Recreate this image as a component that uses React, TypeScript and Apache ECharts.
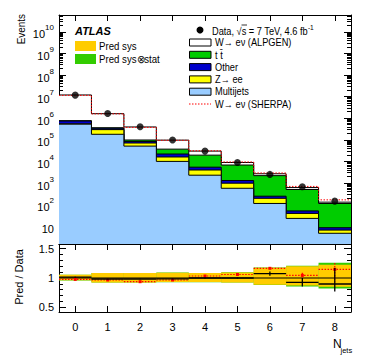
import React, { useEffect, useRef } from 'react';
import * as echarts from 'echarts';

const bins = [0, 1, 2, 3, 4, 5, 6, 7, 8];
const xTickLabels = ['0', '1', '2', '3', '4', '5', '6', '7', '8'];
const yMajorTicks = [10, 1e2, 1e3, 1e4, 1e5, 1e6, 1e7, 1e8, 1e9, 1e10];
const ratioTicks = [0.5, 1, 1.5];

// stacked predictions (per component)
const multijets = [5.3e5, 1.8e5, 5.1e4, 1.0e4, 2.3e3, 570, 113, 23, 4.7];
const zee = [2.0e4, 1.16e5, 2.0e4, 6.0e3, 1.7e3, 410, 82, 16, 1.9];
const other = [1.9e5, 4.9e4, 1.3e4, 6.0e3, 1.4e3, 320, 50, 12, 1.9];
const ttbar = [3.0e4, 1.5e4, 1.4e4, 1.5e4, 1.41e4, 5.5e3, 1.95e3, 450, 104];
const wAlpgen = [1.113e7, 1.26e6, 2.95e5, 5.95e4, 1.05e4, 2100, 485, 114, 17.5];
const sherpaTotal = [1.14e7, 1.59e6, 3.75e5, 9.47e4, 3.1e4, 9.43e3, 2.91e3, 695, 166];
const dataEvents = [1.17e7, 1.65e6, 4.0e5, 9.8e4, 3.0e4, 8.9e3, 2.5e3, 665, 145];

// ratio panel
const ratioAlpgen = [1.015, 0.983, 0.983, 0.985, 1.0, 1.0, 1.073, 0.925, 0.898];
const ratioAlpgenLow = [1.008, 0.977, 0.977, 0.979, 0.993, 0.99, 1.04, 0.857, 0.77];
const ratioAlpgenHigh = [1.022, 0.989, 0.989, 0.991, 1.007, 1.01, 1.113, 1.0, 1.17];
const ratioSherpa = [0.976, 0.966, 0.937, 0.966, 1.034, 1.06, 1.165, 1.045, 1.147];
const ratioSherpaLow = [0.972, 0.962, 0.932, 0.96, 1.027, 1.05, 1.145, 1.0, 0.94];
const ratioSherpaHigh = [0.98, 0.97, 0.942, 0.972, 1.041, 1.07, 1.185, 1.09, 1.255];
const sysLow = [0.96, 0.925, 0.925, 0.93, 0.93, 0.925, 0.886, 0.87, 0.85];
const sysHigh = [1.055, 1.085, 1.085, 1.09, 1.085, 1.095, 1.175, 1.2, 1.227];
const totLow = [0.958, 0.923, 0.923, 0.928, 0.928, 0.922, 0.88, 0.855, 0.82];
const totHigh = [1.057, 1.087, 1.087, 1.092, 1.087, 1.098, 1.18, 1.21, 1.26];

const FONT = "'Liberation Sans', Arial, Helvetica, sans-serif";
const C_MJ = '#99ccff';
const C_Z = '#ffff00';
const C_OTHER = '#0000cc';
const C_TT = '#00cc00';
const C_SYS = '#ffcc00';
const C_TOT = '#33cc00';

function stepPoints(vals: number[]) {
  const pts: number[][] = [];
  vals.forEach((v, i) => {
    pts.push([bins[i] - 0.5, v]);
    pts.push([bins[i] + 0.5, v]);
  });
  return pts;
}

function addArr(a: number[], b: number[]) {
  return a.map((v, i) => v + b[i]);
}

export default function App() {
  const ref = useRef<HTMLDivElement>(null);
  useEffect(() => {
    if (!ref.current) return;
    const chart = echarts.init(ref.current, undefined, { renderer: 'svg' });

    const cumMJ = multijets;
    const cumZ = addArr(cumMJ, zee);
    const cumOther = addArr(cumZ, other);
    const cumTT = addArr(cumOther, ttbar);
    const cumW = addArr(cumTT, wAlpgen);

    const minorLog: number[] = [];
    for (let e = 0; e <= 10; e++) {
      for (let m = 2; m <= 9; m++) {
        const v = m * Math.pow(10, e);
        if (v > 1.5 && v < 6e10) minorLog.push(v);
      }
    }
    const minorRatio: number[] = [];
    for (let k = 5; k <= 15; k++) minorRatio.push(k / 10);

    const X0 = 59, X1 = 351, T0 = 15, B0 = 244, B1 = 312;

    const histSeries = (vals: number[], color: string, z: number) => ({
      type: 'line',
      xAxisIndex: 0,
      yAxisIndex: 0,
      data: stepPoints(vals),
      showSymbol: false,
      symbol: 'none',
      lineStyle: { color: '#000', width: 1 },
      areaStyle: { color, opacity: 1, origin: 'start' },
      z,
      silent: true,
    });

    const xAxisBase = (gridIndex: number, position: string, labels: boolean) => ({
      type: 'value',
      gridIndex,
      position,
      min: -0.5,
      max: 8.5,
      axisLine: { show: true, onZero: false, lineStyle: { color: '#000', width: 1 } },
      axisTick: { show: true, inside: true, length: 6, customValues: bins, lineStyle: { color: '#000' } },
      axisLabel: labels
        ? {
            show: true,
            customValues: bins,
            formatter: (v: number) => xTickLabels[Math.round(v)] ?? '',
            fontFamily: FONT,
            fontSize: 11,
            color: '#000',
            margin: 9,
          }
        : { show: false },
      splitLine: { show: false },
    });

    const logAxis = (position: string, major: boolean, labels: boolean) => ({
      type: 'log',
      logBase: 10,
      gridIndex: 0,
      position,
      min: 1.5,
      max: 6e10,
      axisLine: { show: major, onZero: false, lineStyle: { color: '#000', width: 1 } },
      axisTick: {
        show: true,
        inside: true,
        length: major ? 7 : 4,
        customValues: major ? yMajorTicks : minorLog,
        lineStyle: { color: '#000' },
      },
      axisLabel: labels
        ? {
            show: true,
            customValues: yMajorTicks,
            margin: 5,
            formatter: (v: number) => {
              const e = Math.round(Math.log10(v));
              if (e === 1) return '{b|10}';
              return '{b|10}{s|' + e + '}';
            },
            rich: {
              b: { fontFamily: FONT, fontSize: 11, color: '#000', lineHeight: 16, verticalAlign: 'bottom' },
              s: { fontFamily: FONT, fontSize: 8, color: '#000', lineHeight: 9, verticalAlign: 'top' },
            },
          }
        : { show: false },
      splitLine: { show: false },
    });

    const ratioAxis = (position: string, major: boolean, labels: boolean) => ({
      type: 'value',
      gridIndex: 1,
      position,
      min: 0.42,
      max: 1.58,
      axisLine: { show: major, onZero: false, lineStyle: { color: '#000', width: 1 } },
      axisTick: {
        show: true,
        inside: true,
        length: major ? 7 : 4,
        customValues: major ? ratioTicks : minorRatio,
        lineStyle: { color: '#000' },
      },
      axisLabel: labels
        ? {
            show: true,
            customValues: ratioTicks,
            margin: 5,
            formatter: (v: number) => (Math.abs(v - 1) < 1e-6 ? '1' : String(v)),
            fontFamily: FONT,
            fontSize: 11,
            color: '#000',
          }
        : { show: false },
      splitLine: { show: false },
    });

    const bandSeries = (lo: number[], hi: number[], color: string, z: number) => ({
      type: 'custom',
      xAxisIndex: 2,
      yAxisIndex: 4,
      z,
      silent: true,
      data: bins.map((b, i) => [b, lo[i], hi[i]]),
      renderItem: (params: any, api: any) => {
        const b = api.value(0);
        const p1 = api.coord([b - 0.5, api.value(2)]);
        const p2 = api.coord([b + 0.5, api.value(1)]);
        return {
          type: 'rect',
          shape: { x: p1[0], y: p1[1], width: p2[0] - p1[0], height: p2[1] - p1[1] },
          style: { fill: color },
        };
      },
    });

    const ratioMarks = (vals: number[], lo: number[], hi: number[], color: string, dotted: boolean, z: number) => ({
      type: 'custom',
      xAxisIndex: 2,
      yAxisIndex: 4,
      z,
      silent: true,
      data: bins.map((b, i) => [b, vals[i], lo[i], hi[i]]),
      renderItem: (params: any, api: any) => {
        const b = api.value(0);
        const l = api.coord([b - 0.5, api.value(1)]);
        const r = api.coord([b + 0.5, api.value(1)]);
        const top = api.coord([b, api.value(3)]);
        const bot = api.coord([b, api.value(2)]);
        const c = api.coord([b, api.value(1)]);
        const st = { stroke: color, lineWidth: dotted ? 1.2 : 1.3, lineDash: dotted ? [1.5, 1.5] : undefined };
        const children: any[] = [
          { type: 'line', shape: { x1: l[0], y1: l[1], x2: r[0], y2: r[1] }, style: st },
          { type: 'line', shape: { x1: top[0], y1: top[1], x2: bot[0], y2: bot[1] }, style: st },
        ];
        if (dotted) {
          children.push({ type: 'rect', shape: { x: c[0] - 1.5, y: c[1] - 1.5, width: 3, height: 3 }, style: { fill: color } });
        }
        return { type: 'group', children };
      },
    });

    const txt = (x: number, y: number, text: string, extra: any = {}, sx = 0.88) => ({
      type: 'text',
      x,
      y,
      scaleX: sx,
      style: { text, fontFamily: FONT, fontSize: 10.5, fill: '#000', verticalAlign: 'middle', align: 'left', ...extra },
    });

    const legRows = [
      { label: 'W\u2192 e\u03bd (ALPGEN)', color: '#ffffff' },
      { label: 't t\u0304', color: C_TT },
      { label: 'Other', color: C_OTHER },
      { label: 'Z\u2192 ee', color: C_Z },
      { label: 'Multijets', color: C_MJ },
    ];
    const rowY0 = 42.5, rowDY = 12.3;

    const graphics: any[] = [
      // axis titles
      {
        type: 'text', x: 21, y: 14, rotation: Math.PI / 2, scaleX: 0.9,
        style: { text: 'Events', fontFamily: FONT, fontSize: 11, fill: '#000', align: 'right', verticalAlign: 'middle' },
      },
      {
        type: 'text', x: 19, y: 277, rotation: Math.PI / 2,
        style: { text: 'Pred / Data', fontFamily: FONT, fontSize: 11, fill: '#000', align: 'center', verticalAlign: 'middle' },
      },
      txt(333, 344, 'N', { fontSize: 12 }, 1),
      txt(340.5, 350, 'jets', { fontSize: 7.5 }, 1),
      // left legend
      txt(75, 31, 'ATLAS', { fontWeight: 'bold', fontStyle: 'italic', fontSize: 11 }, 1),
      { type: 'rect', shape: { x: 75, y: 41, width: 21, height: 10 }, style: { fill: C_SYS } },
      txt(99, 46, 'Pred sys', { fontSize: 10.5 }, 0.92),
      { type: 'rect', shape: { x: 75, y: 54, width: 21, height: 10 }, style: { fill: C_TOT } },
      txt(99, 59, 'Pred sys\u2297stat', { fontSize: 10.5 }, 0.92),
      // right legend
      { type: 'circle', shape: { cx: 200, cy: 30, r: 3.5 }, style: { fill: '#000' } },
      {
        type: 'text', x: 212, y: 30, scaleX: 0.88,
        style: {
          text: '{a|Data, \u221as = 7 TeV, 4.6 fb}{s|-1}',
          verticalAlign: 'middle', align: 'left',
          rich: {
            a: { fontFamily: FONT, fontSize: 10.5, fill: '#000', lineHeight: 14, verticalAlign: 'bottom' },
            s: { fontFamily: FONT, fontSize: 7.5, fill: '#000', lineHeight: 8, verticalAlign: 'top' },
          },
        },
      },
      { type: 'line', shape: { x1: 241.5, y1: 25, x2: 247, y2: 25 }, style: { stroke: '#000', lineWidth: 0.8 } },
    ];
    legRows.forEach((r, i) => {
      const y = rowY0 + i * rowDY;
      graphics.push({
        type: 'rect',
        shape: { x: 189.5, y: y - 3.5, width: 21.5, height: 7 },
        style: { fill: r.color, stroke: '#000', lineWidth: 1 },
      });
      graphics.push(txt(215, y, r.label));
    });
    const ySh = rowY0 + 5 * rowDY;
    graphics.push({
      type: 'line',
      shape: { x1: 189, y1: ySh, x2: 211, y2: ySh },
      style: { stroke: '#ff0000', lineWidth: 1, lineDash: [1.5, 1.5] },
    });
    graphics.push(txt(215, ySh, 'W\u2192 e\u03bd (SHERPA)'));

    const option: any = {
      animation: false,
      backgroundColor: '#ffffff',
      grid: [
        { left: X0, top: T0, width: X1 - X0, height: B0 - T0, containLabel: false },
        { left: X0, top: B0, width: X1 - X0, height: B1 - B0, containLabel: false },
      ],
      xAxis: [
        xAxisBase(0, 'bottom', false),
        xAxisBase(0, 'top', false),
        xAxisBase(1, 'bottom', true),
        xAxisBase(1, 'top', false),
      ],
      yAxis: [
        logAxis('left', true, true),
        logAxis('left', false, false),
        logAxis('right', true, false),
        logAxis('right', false, false),
        ratioAxis('left', true, true),
        ratioAxis('left', false, false),
        ratioAxis('right', true, false),
        ratioAxis('right', false, false),
      ],
      series: [
        histSeries(cumW, '#ffffff', 1),
        histSeries(cumTT, C_TT, 2),
        histSeries(cumOther, C_OTHER, 3),
        histSeries(cumZ, C_Z, 4),
        histSeries(cumMJ, C_MJ, 5),
        {
          type: 'line',
          xAxisIndex: 0,
          yAxisIndex: 0,
          data: stepPoints(sherpaTotal),
          showSymbol: false,
          symbol: 'none',
          lineStyle: { color: '#ff0000', width: 1, type: [1.5, 1.5] },
          z: 6,
          silent: true,
        },
        {
          type: 'scatter',
          xAxisIndex: 0,
          yAxisIndex: 0,
          data: bins.map((b, i) => [b, dataEvents[i]]),
          symbol: 'circle',
          symbolSize: 7,
          itemStyle: { color: '#000' },
          z: 7,
          silent: true,
        },
        bandSeries(totLow, totHigh, C_TOT, 1),
        bandSeries(sysLow, sysHigh, C_SYS, 2),
        {
          type: 'line',
          xAxisIndex: 2,
          yAxisIndex: 4,
          data: [[-0.5, 1], [8.5, 1]],
          showSymbol: false,
          symbol: 'none',
          lineStyle: { color: '#000', width: 1 },
          z: 3,
          silent: true,
        },
        ratioMarks(ratioSherpa, ratioSherpaLow, ratioSherpaHigh, '#ff0000', true, 4),
        ratioMarks(ratioAlpgen, ratioAlpgenLow, ratioAlpgenHigh, '#000000', false, 5),
      ],
      graphic: graphics,
    };
    chart.setOption(option);
    return () => chart.dispose();
  }, []);
  return (
    <div
      ref={ref}
      style={{ position: 'fixed', left: 0, top: 0, width: 374, height: 359, background: '#fff' }}
    />
  );
}
